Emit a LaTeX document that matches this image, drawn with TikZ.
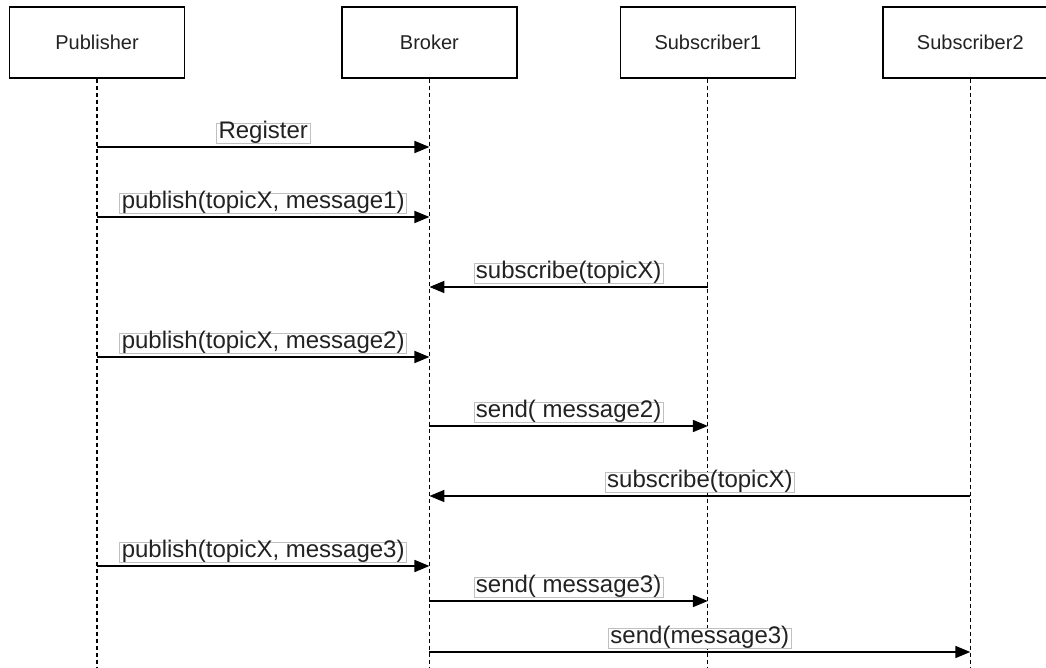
\documentclass[tikz,border=0pt]{standalone}
\usepackage{fontspec}
\setmainfont{Liberation Sans}
\usetikzlibrary{arrows.meta,positioning}
\definecolor{txtgray}{HTML}{222222}
\definecolor{lblframe}{HTML}{C0C0C0}

\begin{document}
\begin{tikzpicture}[x=0.02cm, y=-0.02cm,
  actor/.style={draw, line width=0.85pt, fill=white, minimum width=3.5cm, minimum height=1.42cm, text=txtgray, font=\fontsize{11.38}{13}\selectfont},
  life/.style={line width=0.6pt, dash pattern=on 0.08cm off 0.06cm},
  msg/.style={-{Triangle[length=0.3cm, width=0.24cm]}, line width=1pt},
  lbl/.style={draw=lblframe, line width=0.45pt, fill=white, text=txtgray, inner xsep=0.04cm, inner ysep=0.03cm, text height=0.76em, text depth=0.22em, font=\fontsize{13.66}{16}\selectfont}
]
\useasboundingbox (0,0) rectangle (1046,668);

\node[actor] at (97,42.5) (pub) {Publisher};
\node[actor, right=3.12cm of pub] (brk) {Broker};
\node[actor, right=2.04cm of brk] (sub1) {Subscriber1};
\node[actor, right=1.72cm of sub1] (sub2) {Subscriber2};

% lifelines
\coordinate (bot) at (0,668);
\draw[life] (pub.south) -- (pub |- bot);
\draw[life] (brk.south) -- (brk |- bot);
\draw[life] (sub1.south) -- (sub1 |- bot);
\draw[life] (sub2.south) -- (sub2 |- bot);

% message rows
\coordinate (r1) at (0,147);
\coordinate (r2) at (0,217);
\coordinate (r3) at (0,287);
\coordinate (r4) at (0,357);
\coordinate (r5) at (0,426);
\coordinate (r6) at (0,496);
\coordinate (r7) at (0,566);
\coordinate (r8) at (0,601);
\coordinate (r9) at (0,652);

\draw[msg] (pub |- r1) -- node[lbl, above=0.06cm] {Register} (brk |- r1);
\draw[msg] (pub |- r2) -- node[lbl, above=0.06cm] {publish(topicX, message1)} (brk |- r2);
\draw[msg] (sub1 |- r3) -- node[lbl, above=0.06cm] {subscribe(topicX)} (brk |- r3);
\draw[msg] (pub |- r4) -- node[lbl, above=0.06cm] {publish(topicX, message2)} (brk |- r4);
\draw[msg] (brk |- r5) -- node[lbl, above=0.06cm] {send( message2)} (sub1 |- r5);
\draw[msg] (sub2 |- r6) -- node[lbl, above=0.06cm] {subscribe(topicX)} (brk |- r6);
\draw[msg] (pub |- r7) -- node[lbl, above=0.06cm] {publish(topicX, message3)} (brk |- r7);
\draw[msg] (brk |- r8) -- node[lbl, above=0.06cm] {send( message3)} (sub1 |- r8);
\draw[msg] (brk |- r9) -- node[lbl, above=0.06cm] {send(message3)} (sub2 |- r9);
\end{tikzpicture}
\end{document}
